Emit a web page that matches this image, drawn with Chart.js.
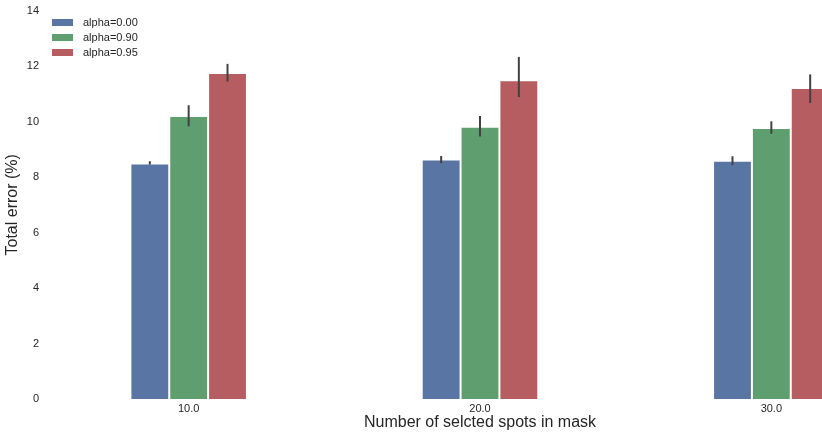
<!DOCTYPE html>
<html>
<head>
<meta charset="utf-8">
<script src="https://cdn.jsdelivr.net/npm/chart.js@4"></script>
<style>
  html, body { margin: 0; padding: 0; background: #fff; overflow: hidden; }
  #wrap { width: 822px; height: 432px; overflow: hidden; }
</style>
</head>
<body>
<div id="wrap"><canvas id="chart" width="917" height="432"></canvas></div>
<script>
// categories on the x axis
const spots = ["10.0", "20.0", "30.0"];
const seriesLabels = ["alpha=0.00", "alpha=0.90", "alpha=0.95"];

// mean total error per group
const alpha000 = [8.49, 8.63, 8.59];
const alpha090 = [10.20, 9.81, 9.77];
const alpha095 = [11.75, 11.49, 11.21];

// error bar ends (low / high)
const alpha000Low = [8.45, 8.50, 8.43];
const alpha000High = [8.57, 8.76, 8.75];
const alpha090Low = [9.83, 9.46, 9.56];
const alpha090High = [10.59, 10.20, 10.01];
const alpha095Low = [11.44, 10.88, 10.67];
const alpha095High = [12.08, 12.33, 11.70];

const yTicks = [0, 2, 4, 6, 8, 10, 12, 14];

const colors = ["#5875a4", "#5f9e6e", "#b55d60"];
const fontName = "'Liberation Sans', Arial, sans-serif";
const textColor = "#262626";

function makeSet(i, values, low, high) {
  return {
    label: seriesLabels[i],
    data: values,
    errLow: low,
    errHigh: high,
    backgroundColor: colors[i],
    borderColor: "rgba(255,255,255,0.85)",
    borderWidth: 1,
    borderSkipped: "bottom",
    categoryPercentage: 0.4,
    barPercentage: 1.0
  };
}

// draws the vertical error lines on top of each bar
const errorBars = {
  id: "errorBars",
  afterDatasetsDraw(chart) {
    const ctx = chart.ctx;
    const yScale = chart.scales.y;
    ctx.save();
    ctx.strokeStyle = "#424242";
    ctx.lineWidth = 2;
    chart.data.datasets.forEach((ds, i) => {
      const meta = chart.getDatasetMeta(i);
      meta.data.forEach((bar, j) => {
        ctx.beginPath();
        ctx.moveTo(bar.x, yScale.getPixelForValue(ds.errLow[j]));
        ctx.lineTo(bar.x, yScale.getPixelForValue(ds.errHigh[j]));
        ctx.stroke();
      });
    });
    ctx.restore();
  }
};

// small legend in the top left corner, like the seaborn one
const cornerLegend = {
  id: "cornerLegend",
  afterDraw(chart) {
    const ctx = chart.ctx;
    ctx.save();
    ctx.font = "11px " + fontName;
    ctx.textBaseline = "middle";
    chart.data.datasets.forEach((ds, i) => {
      const y = 22.5 + i * 15;
      ctx.fillStyle = ds.backgroundColor;
      ctx.fillRect(52, y - 3.5, 21, 7);
      ctx.fillStyle = textColor;
      ctx.fillText(ds.label, 83, y);
    });
    ctx.restore();
  }
};

new Chart(document.getElementById("chart"), {
  type: "bar",
  data: {
    labels: spots,
    datasets: [
      makeSet(0, alpha000, alpha000Low, alpha000High),
      makeSet(1, alpha090, alpha090Low, alpha090High),
      makeSet(2, alpha095, alpha095Low, alpha095High)
    ]
  },
  options: {
    responsive: false,
    animation: false,
    layout: { padding: { top: 9, right: 0, left: 0, bottom: 0 } },
    plugins: {
      legend: { display: false },
      tooltip: { enabled: false }
    },
    scales: {
      x: {
        grid: { display: false, drawTicks: false },
        border: { display: false },
        ticks: { color: textColor, font: { family: fontName, size: 11 }, padding: 3 },
        title: {
          display: true,
          text: "Number of selcted spots in mask",
          color: textColor,
          font: { family: fontName, size: 16 },
          padding: { top: 0, bottom: 0 }
        },
        afterFit(scale) { scale.height = 33; }
      },
      y: {
        min: 0,
        max: 14,
        grid: { display: false, drawTicks: false },
        border: { display: false },
        afterBuildTicks(scale) { scale.ticks = yTicks.map(v => ({ value: v })); },
        ticks: { color: textColor, font: { family: fontName, size: 11 }, padding: 4 },
        title: {
          display: true,
          text: "Total error (%)",
          color: textColor,
          font: { family: fontName, size: 16 },
          padding: { top: 3, bottom: 0 }
        },
        afterFit(scale) { scale.width = 43; }
      }
    }
  },
  plugins: [errorBars, cornerLegend]
});
</script>
</body>
</html>
